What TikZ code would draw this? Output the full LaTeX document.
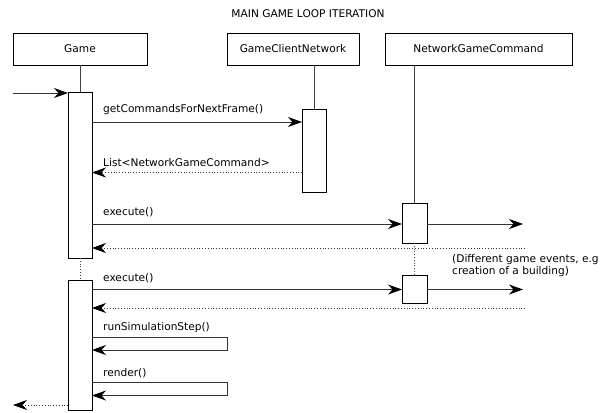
\documentclass[tikz,border=0pt]{standalone}
\usepackage{fontspec}
\setmainfont{DejaVu Sans}
\usetikzlibrary{arrows.meta}

\tikzset{
  lane/.style={draw=black, line width=0.8pt, fill=white, inner sep=0pt, outer sep=0pt,
    minimum height=32pt, font=\fontsize{10.6}{12.5}\selectfont},
  act/.style={draw=black, line width=0.8pt, fill=white, inner sep=0pt, outer sep=0pt,
    minimum width=24pt, anchor=north west},
  lbl/.style={anchor=base west, inner sep=0pt, font=\fontsize{10.6}{12.5}\selectfont},
  life/.style={draw=black!75, line width=0.9pt},
  lifedot/.style={draw=black!75, line width=0.8pt, dotted},
  tip/.style={-{Stealth[length=14pt, width=10pt, inset=4.5pt, black]}},
  msg/.style={draw=black!80, line width=0.9pt, tip},
  reply/.style={draw=black!80, line width=0.8pt, dotted, tip},
}

\begin{document}
\begin{tikzpicture}[x=1pt, y=-1pt]
\useasboundingbox (0,0) rectangle (601,412);

% title
\node[lbl, anchor=base] (title) at (308,17.5) {MAIN GAME LOOP ITERATION};

% participants
\node[lane, minimum width=134pt] (game) at (80,49) {Game};
\node[lane, minimum width=132pt] (gcn)  at (293,49) {GameClientNetwork};
\node[lane, minimum width=187pt] (ngc)  at (478.5,49) {NetworkGameCommand};

% activation bars
\node[act, minimum height=166pt] (ga1) at (68,92) {};
\node[act, minimum height=130pt] (ga2) at (68,280) {};
\node[act, minimum height=83pt]  (ca1) at (302,109) {};
\node[act, minimum height=40pt, minimum width=25pt] (na1) at (402,203) {};
\node[act, minimum height=28pt, minimum width=25pt] (na2) at (402,275) {};

% lifelines
\draw[life] (game.south) -- (ga1.north);
\draw[life] (gcn.south -| ca1.north) -- (ca1.north);
\draw[life] (ngc.south -| na1.north) -- (na1.north);
\draw[lifedot] (ga1.south) -- (ga2.north);
\draw[lifedot] (na1.south) -- (na2.north);

% message rows
\coordinate (yin)  at (13,93);
\coordinate (y1)   at (0,122);
\coordinate (y2)   at (0,172.5);
\coordinate (y3)   at (0,224);
\coordinate (y4)   at (0,248);
\coordinate (y5)   at (0,289.5);
\coordinate (y6)   at (0,308);
\coordinate (y7)   at (0,337);
\coordinate (y7b)  at (0,350);
\coordinate (y8)   at (0,382);
\coordinate (y8b)  at (0,395.5);
\coordinate (yout) at (13,405);
\coordinate (ev1)  at (523,224);
\coordinate (ev2)  at (523,289.5);
\coordinate (rt1)  at (525,248);
\coordinate (rt2)  at (525,308);

% incoming call
\draw[msg] (yin) -- (ga1.west |- yin);

% getCommandsForNextFrame
\draw[msg] (ga1.east |- y1) -- (ca1.west |- y1);
\node[lbl] (l1) at (103,112) {getCommandsForNextFrame()};

% returned command list
\draw[reply] (ca1.west |- y2) -- (ga1.east |- y2);
\node[lbl] (l2) at (103,166) {List<NetworkGameCommand>};

% first execute
\draw[msg] (ga1.east |- y3) -- (na1.west |- y3);
\node[lbl] (l3) at (103,215) {execute()};
\draw[msg] (na1.east |- ev1) -- (ev1);
\draw[reply] (rt1) -- (ga1.east |- rt1);

% note on game events
\node[lbl] (n1) at (452,262) {(Different game events, e.g};
\node[lbl] (n2) at (452,274.5) {creation of a building)};

% second execute
\draw[msg] (ga2.east |- y5) -- (na2.west |- y5);
\node[lbl] (l5) at (103,281) {execute()};
\draw[msg] (na2.east |- ev2) -- (ev2);
\draw[reply] (rt2) -- (ga2.east |- rt2);

% self calls
\draw[msg] (ga2.east |- y7) -- ++(135,0) |- (ga2.east |- y7b);
\node[lbl] (l7) at (103,330) {runSimulationStep()};
\draw[msg] (ga2.east |- y8) -- ++(135,0) |- (ga2.east |- y8b);
\node[lbl] (l8) at (103,376) {render()};

% return to caller
\draw[reply] (ga2.west |- yout) -- (yout);
\end{tikzpicture}
\end{document}
